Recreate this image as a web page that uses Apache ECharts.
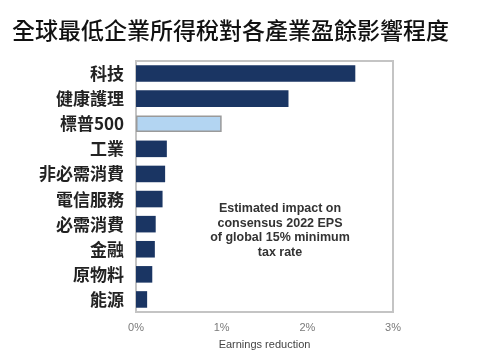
<!DOCTYPE html>
<html>
<head>
<meta charset="utf-8">
<script src="https://cdn.jsdelivr.net/npm/echarts@6/dist/echarts.min.js"></script>
<style>
  html, body { margin: 0; padding: 0; background: #fff; }
  #chart { width: 484px; height: 357px; }
</style>
</head>
<body>
<div id="chart"></div>
<script>
// 各產業對 2022 EPS 的影響 (%)
const sectors = ['科技', '健康護理', '標普500', '工業', '非必需消費', '電信服務', '必需消費', '金融', '原物料', '能源'];
const impact = [2.56, 1.78, 1.0, 0.36, 0.34, 0.31, 0.23, 0.22, 0.19, 0.13];
const xTicks = [0, 1, 2, 3];
const highlight = '標普500';

const chart = echarts.init(document.getElementById('chart'));

const cjk = '"Noto Sans CJK TC", "Noto Sans", sans-serif';
const latin = '"Liberation Sans", Arial, sans-serif';

chart.setOption({
  animation: false,
  title: {
    text: '全球最低企業所得稅對各產業盈餘影響程度',
    left: 7,
    top: 14,
    textStyle: { fontFamily: cjk, fontSize: 23, fontWeight: 500, color: '#111' }
  },
  grid: {
    left: 136, right: 91, top: 61, bottom: 45,
    show: true, borderColor: '#c4c4c4', borderWidth: 2
  },
  xAxis: {
    type: 'value',
    min: xTicks[0],
    max: xTicks[xTicks.length - 1],
    interval: 1,
    splitLine: { show: false },
    axisLine: { show: false },
    axisTick: { show: false },
    axisLabel: {
      formatter: '{value}%',
      fontFamily: latin, fontSize: 11, color: '#7a7a7a', margin: 10
    },
    name: 'Earnings reduction',
    nameLocation: 'middle',
    nameGap: 27,
    nameTextStyle: { fontFamily: latin, fontSize: 11, color: '#444' }
  },
  yAxis: {
    type: 'category',
    data: sectors,
    inverse: true,
    axisLine: { show: false },
    axisTick: { show: false },
    axisLabel: {
      fontFamily: cjk, fontSize: 17, fontWeight: 'bold', color: '#222', margin: 12
    }
  },
  series: [{
    type: 'bar',
    barWidth: '66%',
    data: impact.map((v, i) => ({
      value: v,
      itemStyle: sectors[i] === highlight
        ? { color: '#b3d5f2', borderColor: '#9a9a9a', borderWidth: 1.5 }
        : { color: '#1a3563' }
    }))
  }],
  graphic: [{
    type: 'text',
    x: 280,
    y: 201,
    z: 100,
    style: {
      text: 'Estimated impact on\nconsensus 2022 EPS\nof global 15% minimum\ntax rate',
      align: 'center',
      fontFamily: latin,
      fontSize: 12.5,
      fontWeight: 'bold',
      lineHeight: 14.8,
      fill: '#333'
    }
  }]
});
</script>
</body>
</html>
